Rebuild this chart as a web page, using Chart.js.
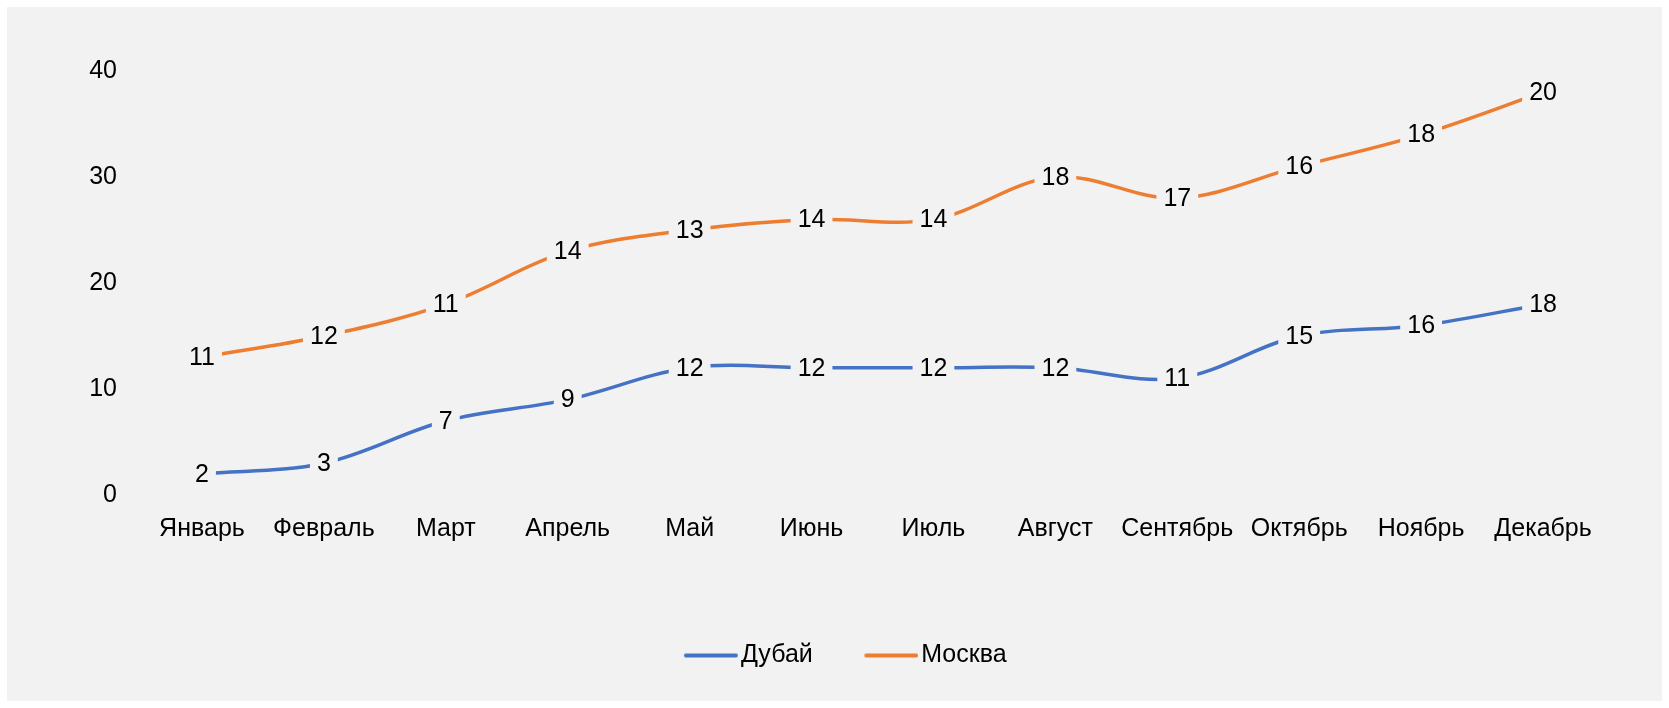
<!DOCTYPE html>
<html lang="ru">
<head>
  <meta charset="UTF-8">
  <title>Дубай и Москва</title>
  <script src="https://cdn.jsdelivr.net/npm/chart.js"></script>
  <style>
    html, body { margin: 0; padding: 0; background: #ffffff; }
    .chart-box {
      position: absolute;
      left: 7px; top: 7px;
      width: 1655px; height: 694px;
      background: #f2f2f2;
    }
  </style>
</head>
<body>
  <div class="chart-box">
    <canvas id="cityChart" width="1655" height="694"></canvas>
  </div>

  <script>
    const months = ['Январь', 'Февраль', 'Март', 'Апрель', 'Май', 'Июнь',
                    'Июль', 'Август', 'Сентябрь', 'Октябрь', 'Ноябрь', 'Декабрь'];
    const dubai  = [2, 3, 7, 9, 12, 12, 12, 12, 11, 15, 16, 18];
    const moscow = [11, 12, 11, 14, 13, 14, 14, 18, 17, 16, 18, 20];
    const yTicks = [0, 10, 20, 30, 40];

    const FONT = '"Liberation Sans", Arial, sans-serif';
    const FONT_SIZE = 25;
    const BG = '#f2f2f2';
    const BLUE = '#4472c4';
    const ORANGE = '#ed7d31';

    // legend swatch: a short line sitting close to the legend text
    function legendLine(color) {
      const c = document.createElement('canvas');
      c.width = 63;
      c.height = 6;
      const g = c.getContext('2d');
      g.strokeStyle = color;
      g.lineWidth = 4;
      g.lineCap = 'round';
      g.beginPath();
      g.moveTo(11, 3);
      g.lineTo(61, 3);
      g.stroke();
      return c;
    }

    // value labels sit on the line, with a patch of background behind them
    const valueLabels = {
      id: 'valueLabels',
      afterDatasetsDraw(chart) {
        const ctx = chart.ctx;
        ctx.save();
        ctx.font = FONT_SIZE + 'px ' + FONT;
        ctx.textAlign = 'center';
        ctx.textBaseline = 'middle';
        chart.data.datasets.forEach((ds, i) => {
          const meta = chart.getDatasetMeta(i);
          meta.data.forEach((pt, j) => {
            const txt = String(ds.data[j]);
            const w = ctx.measureText(txt).width;
            ctx.fillStyle = BG;
            ctx.fillRect(pt.x - w / 2 - 7, pt.y - 14, w + 14, 28);
            ctx.fillStyle = '#000000';
            ctx.fillText(txt, pt.x, pt.y + 1);
          });
        });
        ctx.restore();
      }
    };

    new Chart(document.getElementById('cityChart'), {
      type: 'line',
      data: {
        labels: months,
        datasets: [
          {
            label: 'Дубай',
            data: dubai,
            borderColor: BLUE,
            backgroundColor: BLUE,
            borderWidth: 3.5,
            pointRadius: 0,
            pointStyle: legendLine(BLUE),
            tension: 0.35,
            fill: false
          },
          {
            label: 'Москва',
            data: moscow,
            borderColor: ORANGE,
            backgroundColor: ORANGE,
            borderWidth: 3.5,
            pointRadius: 0,
            pointStyle: legendLine(ORANGE),
            tension: 0.35,
            fill: false
          }
        ]
      },
      options: {
        responsive: false,
        animation: false,
        layout: { padding: { top: 64, right: 0, bottom: 23, left: 22 } },
        scales: {
          x: {
            offset: true,
            grid: { display: false, drawTicks: false },
            border: { display: false },
            ticks: { color: '#000', font: { family: FONT, size: FONT_SIZE }, padding: 19, maxRotation: 0 },
            afterFit(scale) { scale.height = 96; }
          },
          y: {
            stacked: true,
            min: 0,
            max: 40,
            afterBuildTicks(scale) { scale.ticks = yTicks.map(v => ({ value: v })); },
            grid: { display: false, drawTicks: false },
            border: { display: false },
            ticks: { color: '#000', font: { family: FONT, size: FONT_SIZE }, padding: 24 },
            afterFit(scale) { scale.width = 112; }
          },
          // empty strip on the right edge of the plot
          yRight: {
            position: 'right',
            grid: { display: false, drawTicks: false },
            border: { display: false },
            ticks: { display: false },
            afterFit(scale) { scale.width = 58; }
          }
        },
        plugins: {
          legend: {
            position: 'bottom',
            labels: {
              color: '#000',
              font: { family: FONT, size: FONT_SIZE },
              usePointStyle: true,
              pointStyleWidth: 44,
              boxHeight: 6,
              padding: 52
            }
          },
          tooltip: { enabled: false }
        }
      },
      plugins: [valueLabels]
    });
  </script>
</body>
</html>
